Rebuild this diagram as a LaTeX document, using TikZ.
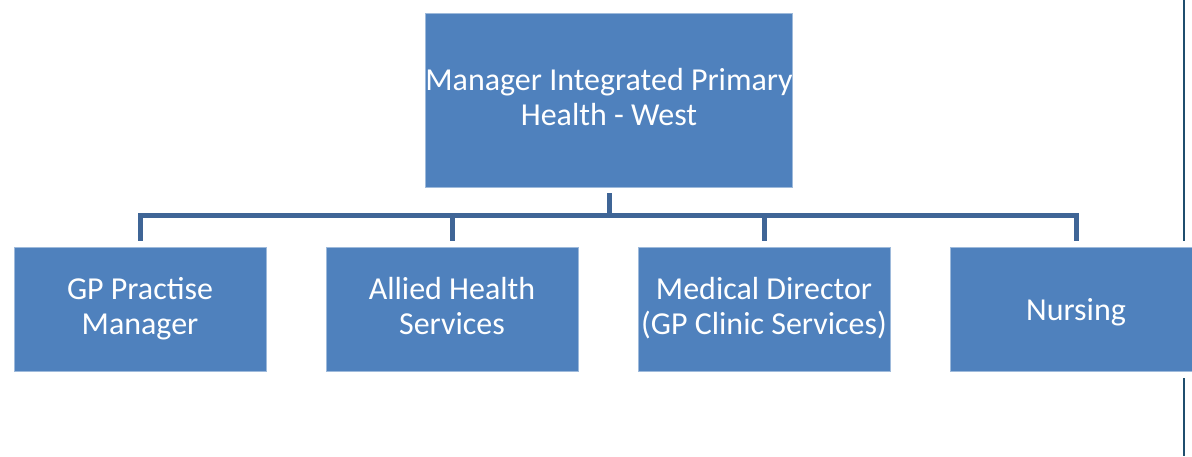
\documentclass[tikz,border=0pt]{standalone}
\usepackage{fontspec}
\setmainfont{Carlito}
\usetikzlibrary{positioning}
\definecolor{orgblue}{HTML}{4F81BD}
\definecolor{linkblue}{HTML}{3F6596}
\definecolor{edgenavy}{HTML}{1F4E6E}
% same strut on first and last line keeps the text evenly placed
\newcommand\boxstrut{\vrule width 0pt height 16.7pt depth 3.2pt}

\begin{document}
\begin{tikzpicture}[
    x=0.02cm, y=-0.02cm,
    font=\fontsize{18.2}{19.9}\selectfont,
    orgbox/.style={
        draw=orgblue!55!white, fill=orgblue, line width=0.4pt,
        text=white, align=center, inner sep=0pt,
        minimum width=5.04cm, minimum height=2.48cm,
        execute at begin node=\boxstrut, execute at end node=\boxstrut,
    },
    headbox/.style={
        orgbox, minimum width=7.32cm, minimum height=3.48cm,
    },
    link/.style={draw=linkblue, line width=0.1cm},
]
\useasboundingbox (0,0) rectangle (1192,456);

% page edge on the right
\draw[edgenavy, line width=0.04cm] (1184,0) -- (1184,241);
\draw[edgenavy, line width=0.04cm] (1184,378) -- (1184,456);

% head of the unit
\node[headbox] (head) at (609,100) {Manager Integrated Primary\\Health - West};

% the four teams
\node[orgbox] (gp)      at (140,309)  {GP Practise\\Manager};
\node[orgbox] (allied)  at (452,309)  {Allied Health\\Services};
\node[orgbox] (medical) at (764,309)  {Medical Director\\(GP Clinic Services)};
\node[orgbox] (nursing) at (1076,309) {Nursing};

% bus line between the levels
\coordinate (bus) at (609,215);
\draw[link] ([yshift=-0.12cm]head.south) -- (bus);
\foreach \team in {gp, allied, medical, nursing}
    \draw[link] (bus) -| ([yshift=0.12cm]\team.north);

\end{tikzpicture}
\end{document}
